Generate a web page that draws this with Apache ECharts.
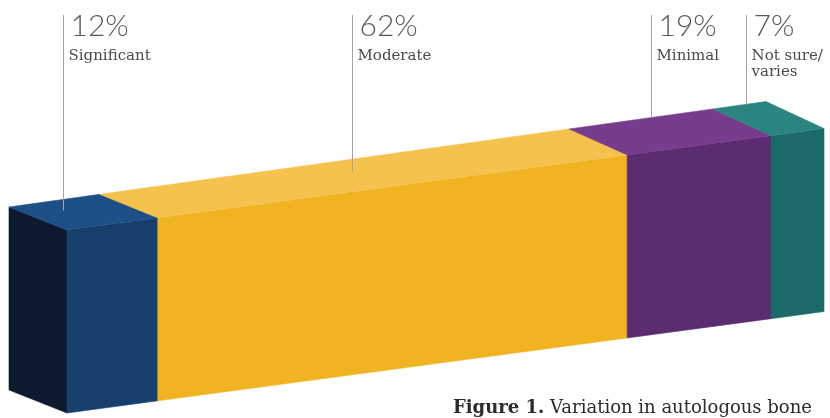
<!DOCTYPE html>
<html>
<head>
<meta charset="utf-8">
<script src="https://cdn.jsdelivr.net/npm/echarts@6/dist/echarts.min.js"></script>
<style>
  html, body { margin: 0; padding: 0; background: #ffffff; }
  #chart { width: 830px; height: 418px; }
</style>
</head>
<body>
<div id="chart"></div>
<script>
// Survey answers, stacked into one 100% block
const categories = ['Significant', 'Moderate', 'Minimal', 'Not sure/\nvaries'];
const shares = [12, 62, 19, 7];
const caption = 'Variation in autologous bone';
const captionLead = 'Figure 1.';

// Face colours for each segment
const frontColors = ['#173f6c', '#f0b422', '#5c2c70', '#1b6a68'];
const topColors = ['#1e5088', '#f6c24e', '#773d8c', '#2b8480'];
const sideColor = '#0d1a2e';

// Oblique projection of the block
const SHEAR = 0.134;          // rise of the front face per px to the right
const DEPTH_X = -58;          // depth offset of the back edge
const DEPTH_Y0 = -23;         // depth rise at the left end
const DEPTH_Y1 = -27;         // depth rise at the right end

// Leader lines: position across each segment and depth into its top face
const leaderFrac = [0.37, 0.49, 0.57, 0.62];
const leaderDepth = [0.65, 0.62, 1, 1];
const LABEL_TOP = 15;

// Cumulative extents of each segment along the 0–100 axis
let acc = 0;
const segments = shares.map((v, i) => {
  const item = [acc, acc + v, v, i];
  acc += v;
  return item;
});

function renderItem(params, api) {
  const i = api.value(3);
  const s = api.value(0), e = api.value(1), v = api.value(2);
  const origin = api.coord([0, 0]);
  const full = api.coord([100, 0]);

  // u: percent along the block, h: 0 bottom / 1 top, t: depth 0 front / 1 back
  function pt(u, h, t) {
    const c = api.coord([u, h]);
    const dx = c[0] - origin[0];
    const f = dx / (full[0] - origin[0]);
    const dy = DEPTH_Y0 + (DEPTH_Y1 - DEPTH_Y0) * f;
    return [c[0] + DEPTH_X * t, c[1] - SHEAR * dx + dy * t];
  }

  const face = (pts, color) => ({
    type: 'polygon',
    shape: { points: pts },
    style: { fill: color, stroke: color, lineWidth: 0.6 }
  });

  const children = [];
  if (i === 0) {
    children.push(face([pt(s, 0, 0), pt(s, 1, 0), pt(s, 1, 1), pt(s, 0, 1)], sideColor));
  }
  children.push(face([pt(s, 0, 0), pt(e, 0, 0), pt(e, 1, 0), pt(s, 1, 0)], frontColors[i]));
  children.push(face([pt(s, 1, 0), pt(e, 1, 0), pt(e, 1, 1), pt(s, 1, 1)], topColors[i]));

  const u = s + leaderFrac[i] * (e - s);
  const end = pt(u, 1, leaderDepth[i]);
  const x = Math.round(end[0]) + 0.5;
  children.push({
    type: 'line',
    shape: { x1: x, y1: LABEL_TOP, x2: x, y2: end[1] },
    style: { stroke: '#a3a3a3', lineWidth: 1 }
  });
  children.push({
    type: 'text',
    x: x + 7, y: LABEL_TOP - 4,
    style: {
      text: v + '%', fill: '#5a5a5a',
      font: '300 30px Lato, "Open Sans", sans-serif',
      verticalAlign: 'top', align: 'left'
    }
  });
  children.push({
    type: 'text',
    x: x + 5, y: LABEL_TOP + 33,
    style: {
      text: categories[i], fill: '#4a4a4a',
      font: '15px "DejaVu Serif", serif',
      lineHeight: 16,
      verticalAlign: 'top', align: 'left'
    }
  });
  return { type: 'group', children };
}

const chart = echarts.init(document.getElementById('chart'), null, { renderer: 'canvas' });
chart.setOption({
  animation: false,
  backgroundColor: '#ffffff',
  title: {
    left: 448, top: 394,
    text: '{b|' + captionLead + '} ' + caption,
    textStyle: {
      fontFamily: '"DejaVu Serif", serif', fontSize: 18,
      fontWeight: 'normal', color: '#2b2b2b',
      rich: { b: { fontFamily: '"DejaVu Serif", serif', fontSize: 18, fontWeight: 'bold', color: '#2b2b2b' } }
    }
  },
  grid: { left: 67, right: 6, top: 230, bottom: 5 },
  xAxis: { type: 'value', min: 0, max: 100, show: false },
  yAxis: { type: 'value', min: 0, max: 1, show: false },
  series: [{
    type: 'custom',
    renderItem: renderItem,
    data: segments,
    clip: false,
    encode: { x: [0, 1], y: 2 }
  }]
});
</script>
</body>
</html>
